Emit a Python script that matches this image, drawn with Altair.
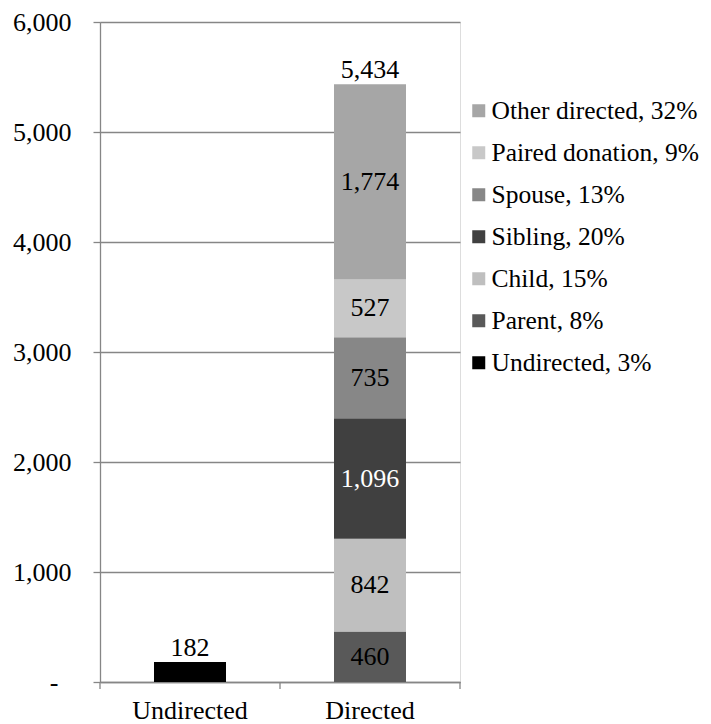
import altair as alt
import pandas as pd

# ---- data ----
categories = ["Undirected", "Directed"]
segments = ["Undirected, 3%", "Parent, 8%", "Child, 15%", "Sibling, 20%",
            "Spouse, 13%", "Paired donation, 9%", "Other directed, 32%"]
segment_bar = ["Undirected", "Directed", "Directed", "Directed",
               "Directed", "Directed", "Directed"]
values = [182, 460, 842, 1096, 735, 527, 1774]
legend_order = ["Other directed, 32%", "Paired donation, 9%", "Spouse, 13%",
                "Sibling, 20%", "Child, 15%", "Parent, 8%", "Undirected, 3%"]
legend_colors = ["#a6a6a6", "#c8c8c8", "#878787", "#404040", "#bfbfbf",
                 "#595959", "#000000"]
label_colors = ["black", "black", "black", "white", "black", "black", "black"]
y_ticks = [0, 1000, 2000, 3000, 4000, 5000, 6000]
boundaries = [0, 1, 2]

df = pd.DataFrame({
    "bar": segment_bar,
    "segment": segments,
    "value": values,
    "order": list(range(len(values))),
    "tcolor": label_colors,
})

FONT = "Liberation Serif"
FS = 26
GRAY = "#868686"

x_enc = alt.X("bar:N", sort=categories,
              scale=alt.Scale(paddingInner=0.6, paddingOuter=0.3),
              axis=alt.Axis(title=None, labelAngle=0, ticks=False,
                            labelFontSize=FS, labelFont=FONT, labelColor="black",
                            labelPadding=15, domainColor=GRAY, domainWidth=1.3,
                            grid=False))

base = alt.Chart(df)

bars = base.mark_bar().encode(
    x=x_enc,
    y=alt.Y("value:Q", stack="zero",
            scale=alt.Scale(domain=[0, 6000], nice=False),
            axis=alt.Axis(title=None, values=y_ticks,
                          labelExpr="datum.value == 0 ? '-' : format(datum.value, ',')",
                          labelFontSize=FS, labelFont=FONT, labelColor="black",
                          labelPadding={"condition": {"test": "datum.value == 0", "value": 35},
                                        "value": 22},
                          tickSize=7, tickColor=GRAY, tickWidth=1.3,
                          domainColor=GRAY, domainWidth=1.3,
                          grid=True, gridColor=GRAY, gridWidth=1.3)),
    color=alt.Color("segment:N",
                    scale=alt.Scale(domain=legend_order, range=legend_colors),
                    legend=alt.Legend(title=None, orient="none", legendX=366, legendY=76,
                                      symbolType="square", symbolSize=169,
                                      symbolStrokeWidth=0, labelFontSize=25.5,
                                      labelFont=FONT, labelColor="black",
                                      rowPadding=15, labelOffset=0, padding=0,
                                      labelLimit=400)),
    order=alt.Order("order:Q", sort="ascending"),
)

seg_labels = base.transform_filter(
    alt.datum.bar == "Directed"
).transform_stack(
    stack="value", groupby=["bar"], as_=["y0", "y1"],
    sort=[alt.SortField("order", order="ascending")]
).transform_calculate(
    mid="(datum.y0 + datum.y1) / 2"
).mark_text(font=FONT, fontSize=FS, baseline="middle").encode(
    x=alt.X("bar:N", sort=categories),
    y=alt.Y("mid:Q"),
    text=alt.Text("value:Q", format=","),
    color=alt.Color("tcolor:N", scale=None),
)

totals = base.transform_aggregate(
    total="sum(value)", groupby=["bar"]
).mark_text(font=FONT, fontSize=FS, baseline="alphabetic", dy=-6, color="black").encode(
    x=alt.X("bar:N", sort=categories),
    y=alt.Y("total:Q"),
    text=alt.Text("total:Q", format=","),
)

ticks = alt.Chart(pd.DataFrame({"b": boundaries})).mark_rule(
    color=GRAY, strokeWidth=1.3
).encode(
    x=alt.X("b:Q", scale=alt.Scale(domain=[0, 2], nice=False, zero=False), axis=None),
    y=alt.value(660),
    y2=alt.value(667),
)

inner = alt.layer(bars, seg_labels, totals)

chart = alt.layer(inner, ticks).resolve_scale(
    x="independent"
).properties(
    width=360, height=660,
    padding={"left": 92, "top": 14, "right": 242, "bottom": 42},
    autosize=alt.AutoSizeParams(type="none"),
).configure_view(stroke=None).configure(font=FONT)

chart.save("out.html", embed_options={"renderer": "svg", "actions": False})
